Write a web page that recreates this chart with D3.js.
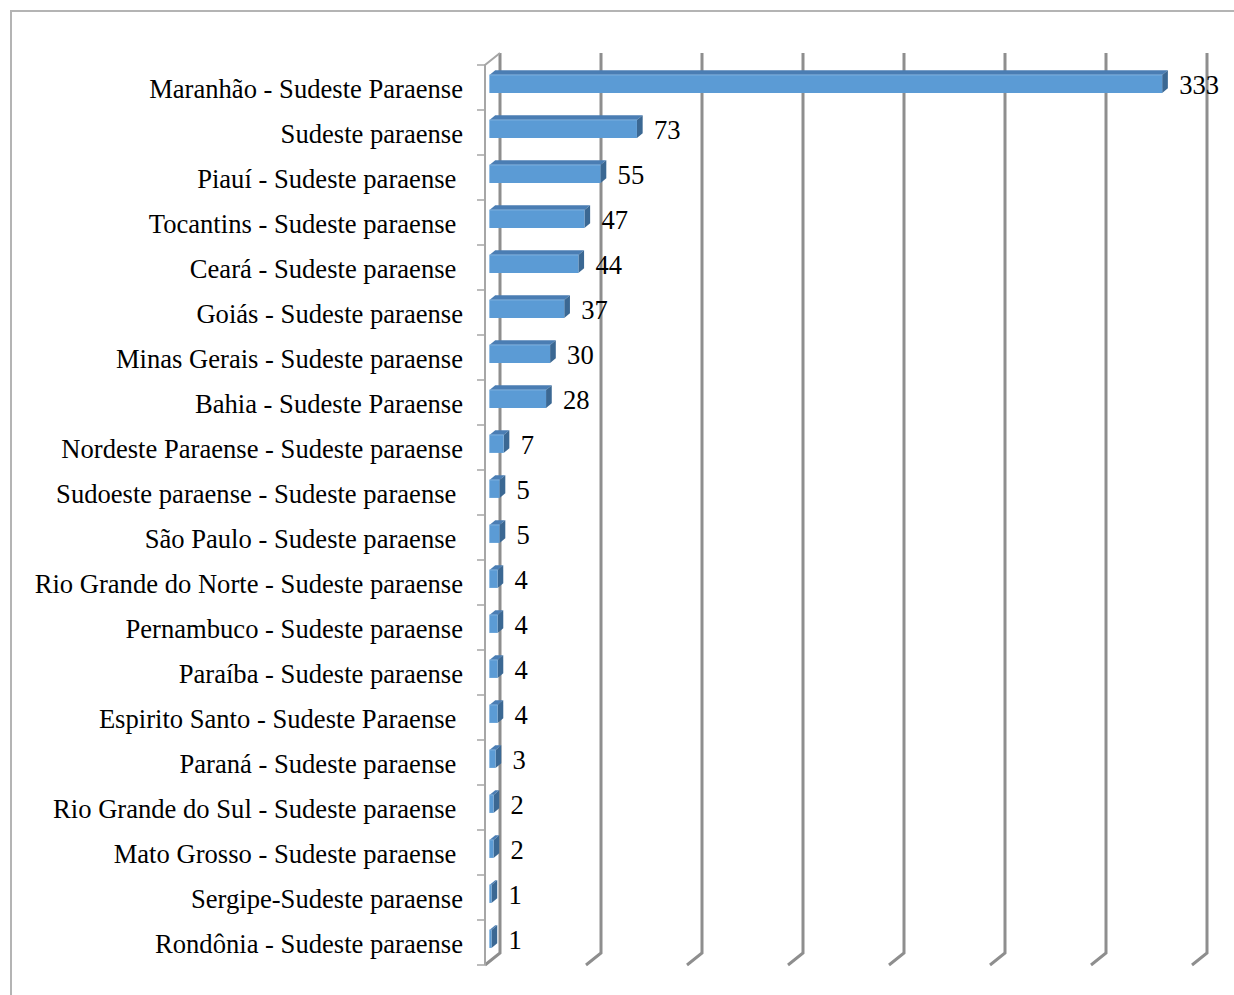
<!DOCTYPE html>
<html>
<head>
<meta charset="utf-8">
<script src="https://cdn.jsdelivr.net/npm/d3@7"></script>
<style>
  html, body { margin: 0; padding: 0; background: #fff; }
  svg { display: block; }
  text { font-family: "Liberation Serif", "Times New Roman", serif; }
</style>
</head>
<body>
<svg id="chart" width="1234" height="995"></svg>
<script>
// Flow categories (top to bottom); trailing spaces are part of the original labels
const categories = [
  "Maranhão - Sudeste Paraense",
  "Sudeste paraense",
  "Piauí - Sudeste paraense ",
  "Tocantins - Sudeste paraense ",
  "Ceará - Sudeste paraense ",
  "Goiás - Sudeste paraense",
  "Minas Gerais - Sudeste paraense",
  "Bahia - Sudeste Paraense",
  "Nordeste Paraense - Sudeste paraense",
  "Sudoeste paraense - Sudeste paraense ",
  "São Paulo - Sudeste paraense ",
  "Rio Grande do Norte - Sudeste paraense",
  "Pernambuco - Sudeste paraense",
  "Paraíba - Sudeste paraense",
  "Espirito Santo - Sudeste Paraense ",
  "Paraná - Sudeste paraense ",
  "Rio Grande do Sul - Sudeste paraense ",
  "Mato Grosso - Sudeste paraense ",
  "Sergipe-Sudeste paraense",
  "Rondônia - Sudeste paraense"
];
const values = [333, 73, 55, 47, 44, 37, 30, 28, 7, 5, 5, 4, 4, 4, 4, 3, 2, 2, 1, 1];
const gridValues = [0, 50, 100, 150, 200, 250, 300, 350];

const svg = d3.select("#chart");

// Plot frame: front plane origin and depth offset of the 3D box
const plotLeft = 485, plotTop = 65, plotW = 707, plotH = 900;
const depthX = 15, depthY = -12;
const barD0 = 0.3, barD1 = 0.68;   // bar depth range (fraction of box depth)
const barH = 18;
const fontSize = 26.6;

const x = d3.scaleLinear().domain([0, 350]).range([0, plotW]);
const y = d3.scaleBand().domain(categories).range([plotTop, plotTop + plotH]).padding(0);

// project a (value, screenY, depth) to screen coordinates
const P = (v, sy, d) => [plotLeft + x(v) + depthX * d, sy + depthY * d];

// Outer chart border
svg.append("rect")
  .attr("x", 11).attr("y", 11)
  .attr("width", 1240).attr("height", 1000)
  .attr("fill", "none").attr("stroke", "#b4b4b4").attr("stroke-width", 2);

// Back-wall gridlines with floor returns
const grid = svg.append("g").attr("stroke", "#8e8e8e").attr("stroke-width", 3).attr("fill", "none");
gridValues.forEach(v => {
  const topB = P(v, plotTop, 1), botB = P(v, plotTop + plotH, 1), botF = P(v, plotTop + plotH, 0);
  grid.append("path").attr("d", d3.line()([topB, botB, botF]));
});

// Left wall: front axis line, top return, tick marks
const axisG = svg.append("g").attr("stroke", "#a6a6a6").attr("stroke-width", 2).attr("fill", "none");
axisG.append("path").attr("d", d3.line()([P(0, plotTop, 1), P(0, plotTop, 0), P(0, plotTop + plotH, 0)]));
const tickYs = categories.map(c => y(c)).concat([plotTop + plotH]);
tickYs.forEach(ty => {
  axisG.append("line").attr("x1", plotLeft - 8).attr("x2", plotLeft).attr("y1", ty).attr("y2", ty)
    .attr("stroke-width", 1.5);
});

// 3D bars
const barsG = svg.append("g");
categories.forEach((c, i) => {
  const v = values[i];
  const cy = y(c) + y.bandwidth() / 2;
  const t = cy - barH / 2, b = cy + barH / 2;
  const f0 = P(0, t, barD0), f1 = P(v, t, barD0), f2 = P(v, b, barD0), f3 = P(0, b, barD0);
  const k0 = P(0, t, barD1), k1 = P(v, t, barD1), k2 = P(v, b, barD1);
  const g = barsG.append("g");
  // top face
  g.append("path").attr("d", d3.line()([f0, f1, k1, k0]) + "Z").attr("fill", "#4a7db3");
  // right face
  g.append("path").attr("d", d3.line()([f1, k1, k2, f2]) + "Z").attr("fill", "#3b6893");
  // front face
  g.append("path").attr("d", d3.line()([f0, f1, f2, f3]) + "Z").attr("fill", "#5b9bd5");
  g.append("path").attr("d", d3.line()([f3, f0, f1]))
    .attr("fill", "none").attr("stroke", "#8fbde6").attr("stroke-width", 0.8);
});

// Category labels
svg.append("g").selectAll("text").data(categories).join("text")
  .attr("x", plotLeft - 22)
  .attr("y", c => y(c) + y.bandwidth() / 2 + 10.5)
  .attr("text-anchor", "end")
  .style("white-space", "pre")
  .attr("font-size", fontSize)
  .attr("fill", "#000")
  .text(c => c);

// Value labels
svg.append("g").selectAll("text").data(values).join("text")
  .attr("x", (v) => P(v, 0, barD0)[0] + 17)
  .attr("y", (v, i) => y(categories[i]) + y.bandwidth() / 2 + depthY * barD0 + 10)
  .attr("font-size", fontSize)
  .attr("fill", "#000")
  .text(v => v);
</script>
</body>
</html>
